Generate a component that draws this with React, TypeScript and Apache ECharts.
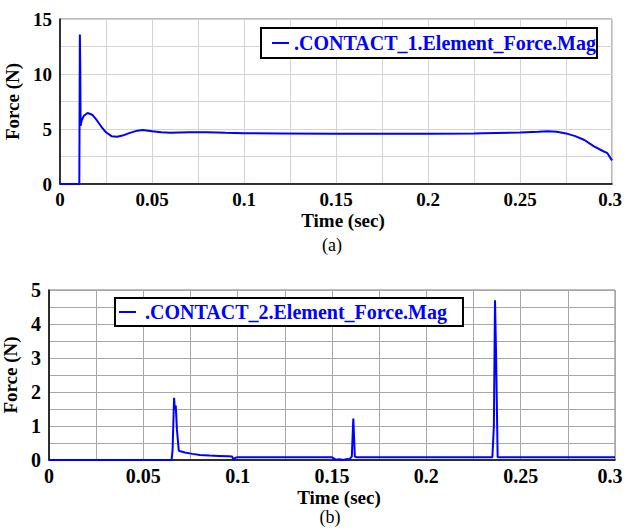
import React, { useEffect, useRef } from "react";
import * as echarts from "echarts";

const timeA = [0, 0.0105, 0.0108, 0.011, 0.0112, 0.0118, 0.013, 0.015, 0.0175, 0.02, 0.0225, 0.025, 0.028, 0.031, 0.034, 0.038, 0.042, 0.045, 0.05, 0.055, 0.06, 0.07, 0.08, 0.09, 0.1, 0.12, 0.15, 0.2, 0.225, 0.23, 0.25, 0.26, 0.265, 0.27, 0.275, 0.28, 0.285, 0.29, 0.295, 0.2975, 0.3];
const forceA = [0, 0, 13.6, 10.7, 5.3, 5.8, 6.2, 6.45, 6.3, 5.8, 5.2, 4.7, 4.35, 4.3, 4.4, 4.65, 4.85, 4.9, 4.8, 4.7, 4.65, 4.7, 4.7, 4.65, 4.62, 4.6, 4.57, 4.57, 4.58, 4.62, 4.68, 4.75, 4.8, 4.75, 4.6, 4.35, 4.0, 3.45, 3.0, 2.8, 2.15];

const timeB = [0, 0.065, 0.0655, 0.0663, 0.0667, 0.0672, 0.0678, 0.0688, 0.072, 0.076, 0.08, 0.085, 0.09, 0.095, 0.097, 0.0978, 0.099, 0.1, 0.12, 0.15, 0.152, 0.154, 0.156, 0.158, 0.159, 0.1605, 0.1613, 0.1621, 0.163, 0.2, 0.235, 0.2358, 0.2364, 0.237, 0.2378, 0.24, 0.3];
const forceB = [0, 0, 0.3, 1.83, 1.5, 1.6, 0.9, 0.27, 0.22, 0.18, 0.15, 0.13, 0.12, 0.11, 0.1, 0.02, 0.07, 0.08, 0.08, 0.08, 0.01, 0.02, 0.0, 0.03, 0.01, 0.1, 1.22, 0.1, 0.08, 0.08, 0.08, 1.0, 4.7, 3.0, 0.08, 0.08, 0.08];

const nameA = ".CONTACT_1.Element_Force.Mag";
const nameB = ".CONTACT_2.Element_Force.Mag";
const xTitle = "Time (sec)";
const yTitle = "Force (N)";
const captions = ["(a)", "(b)"];

const FONT = "Liberation Serif";
const BLUE = "#0000ff";

export default function App() {
  const ref = useRef<HTMLDivElement>(null);
  useEffect(() => {
    if (!ref.current) return;
    const chart = echarts.init(ref.current, undefined, { renderer: "svg" });
    const ls = (size: number) => ({ fontFamily: FONT, fontWeight: "bold" as const, fontSize: size, color: "#000" });
    const mkX = (gi: number, gridColor: string, nameGap: number, size: number, lastPad: number) => ({
      type: "value",
      gridIndex: gi,
      min: 0,
      max: 0.3,
      interval: 0.05,
      name: xTitle,
      nameLocation: "middle",
      nameGap,
      nameTextStyle: { ...ls(19), padding: [0, 0, 0, 14] },
      axisLine: { show: true, lineStyle: { color: "#000", width: 1.5 } },
      axisTick: { show: false },
      axisLabel: {
        ...ls(size),
        margin: 6,
        formatter: (v: number) => {
          const s = String(+v.toFixed(3));
          return v > 0.2999 ? `{r|${s}}` : s;
        },
        rich: { r: { ...ls(size), padding: [0, lastPad, 0, 0] } },
      },
      splitLine: { show: true, lineStyle: { color: gridColor, width: 1 } },
      minorSplitLine: { show: true, lineStyle: { color: gridColor, width: 1 } },
      minorTick: { show: false, splitNumber: 2 },
    });
    const mkY = (gi: number, max: number, interval: number, gridColor: string, nameGap: number, size: number) => ({
      type: "value",
      gridIndex: gi,
      min: 0,
      max,
      interval,
      name: yTitle,
      nameLocation: "middle",
      nameGap,
      nameTextStyle: { ...ls(19) },
      axisLine: { show: true, lineStyle: { color: "#000", width: 1.5 } },
      axisTick: { show: false },
      axisLabel: { ...ls(size), margin: 8 },
      splitLine: { show: true, lineStyle: { color: gridColor, width: 1 } },
      minorSplitLine: { show: true, lineStyle: { color: gridColor, width: 1 } },
      minorTick: { show: false, splitNumber: 2 },
    });
    const mkLegend = (name: string, left: number, top: number, padding: number[], textPad: number[]) => ({
      data: [name],
      left,
      top,
      orient: "horizontal",
      backgroundColor: "#fff",
      borderColor: "#000",
      borderWidth: 2,
      borderRadius: 0,
      padding,
      icon: "rect",
      itemWidth: 17,
      itemHeight: 2,
      itemGap: 5,
      textStyle: { fontFamily: FONT, fontWeight: "bold", fontSize: 20, color: BLUE, padding: textPad },
      selectedMode: false,
    });
    chart.setOption({
      animation: false,
      backgroundColor: "#fff",
      textStyle: { fontFamily: FONT },
      grid: [
        { left: 60, top: 19, width: 552, height: 165, outerBoundsMode: "none", containLabel: false, show: true, borderColor: "#777", borderWidth: 1, backgroundColor: "transparent" },
        { left: 49, top: 290, width: 566, height: 170, outerBoundsMode: "none", containLabel: false, show: true, borderColor: "#777", borderWidth: 1, backgroundColor: "transparent" },
      ],
      xAxis: [mkX(0, "#d4d4d4", 27, 19, 4), mkX(1, "#a8a8a8", 28, 20, 10)],
      yAxis: [mkY(0, 15, 5, "#d4d4d4", 30, 19), mkY(1, 5, 1, "#a8a8a8", 21, 20)],
      legend: [
        mkLegend(nameA, 261, 28, [5, 1, 5, 11], [0, 0, 0, 0]),
        mkLegend(nameB, 115, 298, [4, 16, 4, 4], [0, 0, 0, 4]),
      ],
      series: [
        {
          name: nameA,
          type: "line",
          xAxisIndex: 0,
          yAxisIndex: 0,
          data: timeA.map((t, i) => [t, forceA[i]]),
          showSymbol: false,
          symbol: "none",
          lineStyle: { color: BLUE, width: 2 },
          itemStyle: { color: BLUE },
        },
        {
          name: nameB,
          type: "line",
          xAxisIndex: 1,
          yAxisIndex: 1,
          data: timeB.map((t, i) => [t, forceB[i]]),
          showSymbol: false,
          symbol: "none",
          lineStyle: { color: BLUE, width: 2 },
          itemStyle: { color: BLUE },
        },
      ],
      graphic: [
        { type: "text", x: 332, y: 245, style: { text: captions[0], fontFamily: FONT, fontSize: 18, fill: "#000", align: "center", verticalAlign: "middle" } },
        { type: "text", x: 330, y: 517, style: { text: captions[1], fontFamily: FONT, fontSize: 18, fill: "#000", align: "center", verticalAlign: "middle" } },
      ],
    });
    return () => chart.dispose();
  }, []);
  return <div ref={ref} style={{ position: "absolute", left: 0, top: 0, width: 625, height: 532 }} />;
}
